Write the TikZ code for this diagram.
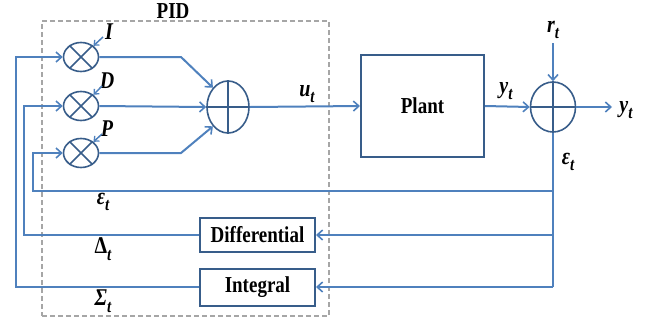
\documentclass[tikz,border=0pt]{standalone}
\usepackage{fontspec}
\setmainfont{Liberation Serif}
\usepackage{graphicx}
\usetikzlibrary{arrows.meta,shapes.geometric}
\definecolor{lblue}{HTML}{4F81BD}
\definecolor{dblue}{HTML}{385D8A}
\definecolor{dgray}{HTML}{A6A6A6}
\newcommand\vst[1]{\scalebox{1}[1.2]{#1}}
\newcommand\msub[2]{\vst{\bfseries\itshape #1\raisebox{-0.28em}{\fontsize{15}{17}\selectfont #2}}}
\begin{document}
\begin{tikzpicture}[x=1pt,y=-1pt,
  wire/.style={draw=lblue,line width=2pt},
  arr/.style={wire,-{Straight Barb[length=5.5pt,width=10pt,line width=1.6pt]}},
  sarr/.style={draw=lblue,line width=1.5pt,-{Straight Barb[length=4pt,width=7pt,line width=1.3pt]}},
  mult/.style={draw=dblue,line width=1.6pt,ellipse,minimum width=35pt,minimum height=29pt,inner sep=0pt},
  cross/.style={draw=dblue,line width=1.6pt},
  blk/.style={draw=dblue,line width=2pt,rectangle,inner sep=0pt,font=\fontsize{19}{22}\selectfont\bfseries},
  lbl/.style={inner sep=1pt,font=\fontsize{20}{22}\selectfont}]
\useasboundingbox (0,0) rectangle (650,325);
% PID box
\node[draw=dgray,line width=1.4pt,dash pattern=on 5pt off 3pt,minimum width=287pt,minimum height=295pt,inner sep=0pt] (pidbox) at (185.5,168.5) {};
\node[lbl,font=\fontsize{19}{22}\selectfont] (pidl) at (173,11) {\vst{\bfseries PID}};
% multipliers
\node[mult] (I) at (81,57) {};
\node[mult] (D) at (81,106) {};
\node[mult] (P) at (81,153) {};
\foreach \m in {I,D,P}{\draw[cross] (\m.45)--(\m.225) (\m.135)--(\m.315);}
\node[lbl] (Il) at (109,32) {\vst{\bfseries\itshape I}};
\node[lbl] (Dl) at (107,81) {\vst{\bfseries\itshape D}};
\node[lbl] (Pl) at (107,129) {\vst{\bfseries\itshape P}};
\coordinate (Ia) at (103,37);
\coordinate (Da) at (102,86);
\coordinate (Pa) at (102,134);
\draw[sarr] (Ia) -- (I.42);
\draw[sarr] (Da) -- (D.42);
\draw[sarr] (Pa) -- (P.42);
% summing junction
\node[draw=dblue,line width=1.6pt,ellipse,minimum width=42pt,minimum height=52pt,inner sep=0pt] (S) at (228,107) {};
\draw[cross] (S.north)--(S.south) (S.west)--(S.east);
\coordinate (ka) at (181,57);
\coordinate (kc) at (181,153);
\draw[arr] (I.east) -- (ka) -- (S.128);
\draw[arr] (D.east) -- (S.west);
\draw[arr] (P.east) -- (kc) -- (S.232);
% plant
\node[blk,minimum width=123pt,minimum height=102pt] (plant) at (422.5,106) {\vst{Plant}};
\draw[arr] (S.east) -- (plant.west);
\node[lbl] (ul) at (307,94) {\msub{u}{t}};
% output junction
\node[draw=dblue,line width=1.6pt,ellipse,minimum width=45pt,minimum height=50pt,inner sep=0pt] (O) at (553,107) {};
\draw[cross] (O.north)--(O.south) (O.west)--(O.east);
\draw[arr] (plant.east) -- (O.west);
\node[lbl] (yl1) at (506,91) {\msub{y}{t}};
\node[lbl] (rl) at (553,30) {\msub{r}{t}};
\coordinate (rtop) at (553,43);
\draw[arr] (rtop) -- (O.north);
\coordinate (yend) at (612,107);
\draw[arr] (O.east) -- (yend);
\node[lbl] (yl2) at (626,110) {\msub{y}{t}};
\node[lbl] (el) at (568,162) {\msub{ε}{t}};
% feedback blocks
\node[blk,minimum width=115pt,minimum height=34pt] (diff) at (257.5,235) {\vst{Differential}};
\node[blk,minimum width=115pt,minimum height=37pt] (int) at (257.5,287) {\vst{Integral}};
\coordinate (b1) at (553,191);
\coordinate (b2) at (553,235);
\coordinate (b3) at (553,287);
\draw[wire] (O.south) -- (b3);
\coordinate (e1) at (33,191);
\coordinate (e2) at (33,153);
\draw[arr] (b1) -- (e1) -- (e2) -- (P.west);
\draw[arr] (b2) -- (diff.east);
\coordinate (d1) at (24,235);
\coordinate (d2) at (24,106);
\draw[arr] (diff.west) -- (d1) -- (d2) -- (D.west);
\draw[arr] (b3) -- (int.east);
\coordinate (i1) at (16,287);
\coordinate (i2) at (16,57);
\draw[arr] (int.west) -- (i1) -- (i2) -- (I.west);
\node[lbl] (el2) at (103,202) {\msub{ε}{t}};
\node[lbl] (dl2) at (103,249) {\vst{\bfseries Δ\raisebox{-0.28em}{\fontsize{15}{17}\selectfont\itshape t}}};
\node[lbl] (sl2) at (103,301) {\msub{Σ}{t}};
\end{tikzpicture}
\end{document}
